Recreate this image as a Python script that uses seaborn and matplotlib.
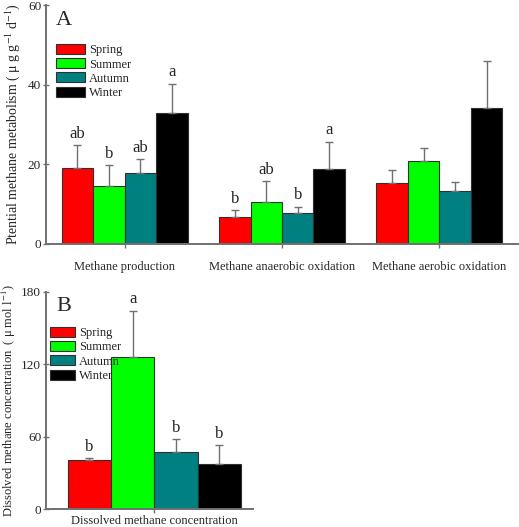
import numpy as np
import pandas as pd
import matplotlib
matplotlib.use("Agg")
import matplotlib.pyplot as plt
import seaborn as sns
from matplotlib.patches import Patch

# --- DATA ---
seasons = ['Spring', 'Summer', 'Autumn', 'Winter']
processes = ['Methane production', 'Methane anaerobic oxidation', 'Methane aerobic oxidation']

# potential rates, panel A (rows = process, cols = season)
rate_mean = [[19.0, 14.6, 17.9, 32.8],
             [6.7, 10.6, 7.8, 18.8],
             [15.4, 20.8, 13.3, 34.2]]
rate_err = [[5.8, 5.2, 3.4, 7.4],
            [1.8, 5.1, 1.5, 6.9],
            [3.2, 3.4, 2.2, 11.7]]
rate_letters = [['ab', 'b', 'ab', 'a'],
                ['b', 'ab', 'b', 'a'],
                ['', '', '', '']]

# dissolved concentration, panel B
conc_cat = ['Dissolved methane concentration']
conc_mean = [40.5, 126.2, 47.6, 37.2]
conc_err = [1.7, 38.1, 10.3, 16.0]
conc_letters = ['b', 'a', 'b', 'b']

palette = {'Spring': '#ff0000', 'Summer': '#00ff00', 'Autumn': '#008080', 'Winter': '#000000'}

# --- STYLE ---
sns.set_style('ticks')
plt.rcParams['font.family'] = ['Liberation Serif', 'DejaVu Serif']
plt.rcParams['mathtext.fontset'] = 'stix'
spine_col = '#707070'

W, H = 519, 527
fig = plt.figure(figsize=(W / 100, H / 100), dpi=100)


def box(l, t, r, b):
    return [l / W, 1 - b / H, (r - l) / W, (b - t) / H]


def draw(ax, cats, means, errs, letters, xpad):
    rows = []
    for i, c in enumerate(cats):
        for j, s in enumerate(seasons):
            rows.append({'cat': c, 'season': s, 'val': means[i][j]})
    df = pd.DataFrame(rows)
    sns.barplot(data=df, x='cat', y='val', hue='season', order=cats, hue_order=seasons,
                palette=palette, errorbar=None, width=0.8, edgecolor='#303030',
                linewidth=0.8, saturation=1, ax=ax, legend=False)
    bars = list(ax.containers)
    for j, cont in enumerate(bars):
        for i, bar in enumerate(cont.patches):
            x = bar.get_x() + bar.get_width() / 2
            m = means[i][j]
            e = errs[i][j]
            ax.errorbar(x, m, yerr=[[0], [e]], fmt='none', ecolor='#707070',
                        elinewidth=1, capsize=3, capthick=1)
            if letters[i][j]:
                ax.text(x, m + e + ax.get_ylim()[1] * 0.015, letters[i][j],
                        ha='center', va='bottom', fontsize=12)
    for side in ['top', 'right']:
        ax.spines[side].set_visible(False)
    for side in ['left', 'bottom']:
        ax.spines[side].set_color(spine_col)
        ax.spines[side].set_linewidth(1.4)
    ax.tick_params(axis='y', direction='inout', length=5, width=1, color=spine_col,
                   labelsize=9.5, pad=1)
    ax.tick_params(axis='x', direction='out', length=3, width=1, color=spine_col,
                   labelsize=9, pad=xpad)
    ax.set_xlabel('')


# --- PANEL A ---
axA = fig.add_axes(box(46, 5, 518, 244))
axA.set_ylim(0, 60)
axA.set_yticks([0, 20, 40, 60])
draw(axA, processes, rate_mean, rate_err, rate_letters, 9)
axA.set_xlim(-0.5, 2.5)
axA.set_ylabel('Ptential methane metabolism ( $\\mathregular{\\mu}$ g g$^{-1}$ d$^{-1}$)',
               fontsize=10, labelpad=4)
axA.text(0.02, 0.975, 'A', transform=axA.transAxes, fontsize=16, va='top')

# --- PANEL B ---
axB = fig.add_axes(box(46, 291.7, 253, 509.3))
axB.set_ylim(0, 180)
axB.set_yticks([0, 60, 120, 180])
draw(axB, conc_cat, [conc_mean], [conc_err], [conc_letters], 1)
axB.set_xlim(-0.5, 0.455)
axB.set_ylabel('Dissolved methane concentration  ( $\\mathregular{\\mu}$ mol l$^{-1}$)',
               fontsize=9, labelpad=2)
axB.text(0.05, 0.975, 'B', transform=axB.transAxes, fontsize=16, va='top')

# --- LEGENDS ---
handles = [Patch(facecolor=palette[s], edgecolor='#303030', linewidth=0.8, label=s)
           for s in seasons]
axA.legend(handles=handles, loc='upper left', bbox_to_anchor=(51 / W, 1 - 39 / H),
           bbox_transform=fig.transFigure, frameon=False, fontsize=9,
           handlelength=2.3, handleheight=0.85, labelspacing=0.15, handletextpad=0.35,
           borderaxespad=0)
axB.legend(handles=handles, loc='upper left', bbox_to_anchor=(45 / W, 1 - 322 / H),
           bbox_transform=fig.transFigure, frameon=False, fontsize=9,
           handlelength=2.0, handleheight=0.85, labelspacing=0.15, handletextpad=0.3,
           borderaxespad=0)

fig.savefig('out.png', dpi=100)
